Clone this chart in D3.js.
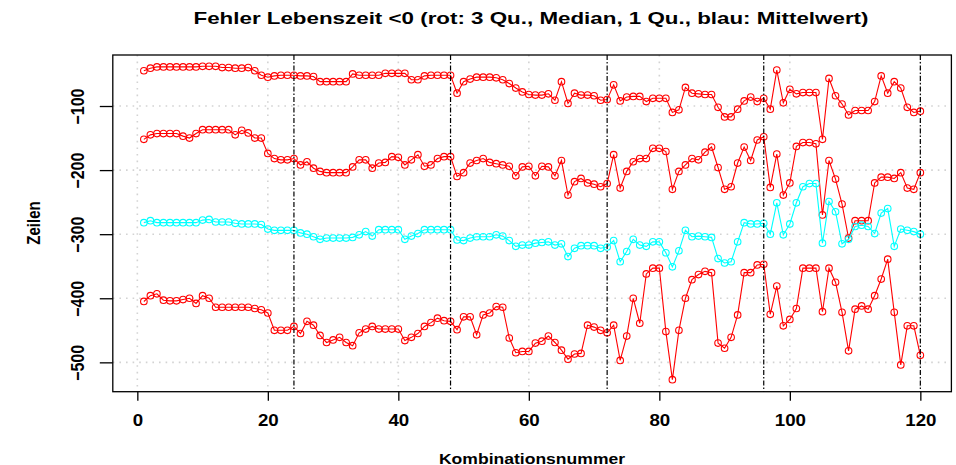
<!DOCTYPE html>
<html>
<head>
<meta charset="utf-8">
<script src="https://cdn.jsdelivr.net/npm/d3@7"></script>
<style>
  body { margin: 0; background: #fff; }
  text { font-family: "Liberation Sans", Arial, sans-serif; font-weight: bold; fill: #000; }
</style>
</head>
<body>
<div class="chart"></div>
<script>
// values, index 1..120
const q3 = [-45,-41,-39,-39,-39,-39,-39,-39,-39,-38,-38,-38,-40,-40,-41,-41,-40,-45,-52,-55,
  -53,-52,-52,-52,-53,-53,-54,-62,-62,-62,-62,-62,-50,-52,-52,-52,-52,-49,-49,-49,
  -49,-59,-59,-53,-52,-52,-52,-52,-80,-62,-58,-55,-55,-55,-56,-59,-65,-72,-78,-82,
  -83,-83,-81,-91,-62,-96,-80,-83,-83,-84,-91,-90,-67,-92,-86,-85,-85,-93,-88,-88,
  -88,-110,-106,-71,-80,-81,-82,-82,-102,-117,-117,-105,-92,-86,-93,-88,-105,-44,-95,-74,
  -81,-79,-79,-79,-152,-57,-84,-97,-114,-107,-107,-107,-93,-53,-80,-62,-72,-102,-110,-108];

const median = [-152,-145,-143,-143,-143,-143,-147,-150,-143,-137,-137,-137,-137,-137,-145,-138,-142,-150,-150,-174,
  -182,-184,-184,-182,-192,-187,-197,-202,-204,-204,-204,-204,-195,-184,-184,-197,-189,-188,-179,-180,
  -192,-184,-176,-194,-192,-182,-179,-179,-210,-204,-189,-185,-182,-188,-190,-192,-194,-209,-195,-194,
  -209,-194,-195,-209,-185,-239,-218,-213,-220,-222,-226,-221,-176,-228,-202,-187,-182,-182,-166,-166,
  -171,-230,-202,-192,-182,-184,-172,-164,-196,-230,-226,-189,-164,-185,-153,-148,-227,-175,-239,-220,
  -163,-157,-157,-159,-270,-185,-214,-253,-306,-279,-279,-279,-220,-211,-211,-213,-204,-228,-230,-204];

const mean = [-282,-279,-282,-282,-282,-282,-282,-282,-282,-278,-277,-281,-281,-281,-283,-284,-284,-284,-285,-292,
  -294,-294,-294,-294,-298,-300,-304,-308,-306,-306,-306,-306,-305,-301,-296,-303,-293,-293,-293,-293,
  -308,-303,-299,-293,-293,-293,-293,-293,-309,-310,-306,-304,-304,-304,-301,-303,-310,-319,-317,-317,
  -314,-313,-312,-317,-315,-335,-322,-318,-318,-318,-322,-320,-310,-343,-327,-308,-317,-319,-312,-312,
  -329,-351,-326,-294,-304,-303,-304,-305,-338,-345,-343,-312,-282,-284,-284,-283,-300,-251,-301,-284,
  -251,-226,-221,-221,-314,-249,-265,-315,-308,-288,-286,-288,-299,-267,-260,-319,-292,-294,-296,-300];

const q1 = [-405,-396,-393,-403,-404,-404,-402,-400,-408,-396,-400,-414,-414,-414,-414,-414,-414,-416,-418,-423,
  -450,-450,-450,-444,-455,-436,-442,-458,-469,-465,-461,-469,-474,-454,-448,-444,-448,-448,-448,-448,
  -466,-461,-455,-444,-438,-431,-435,-436,-449,-429,-429,-457,-426,-423,-413,-414,-462,-485,-483,-483,
  -470,-467,-459,-469,-481,-495,-487,-486,-442,-445,-450,-454,-442,-497,-459,-400,-439,-362,-353,-353,
  -452,-527,-450,-400,-371,-363,-358,-360,-470,-478,-461,-426,-360,-360,-348,-347,-425,-381,-443,-433,
  -416,-353,-353,-353,-421,-353,-375,-422,-482,-417,-412,-417,-396,-370,-339,-422,-504,-443,-443,-489];

const xTicks = [0, 20, 40, 60, 80, 100, 120];
const yTicks = [-100, -200, -300, -400, -500];
const blockLines = [24, 48, 72, 96, 120];

const series = [
  { name: "3 Qu.", values: q3, color: "#ff0000" },
  { name: "Median", values: median, color: "#ff0000" },
  { name: "1 Qu.", values: q1, color: "#ff0000" },
  { name: "Mittelwert", values: mean, color: "#00ffff" }
];

const width = 956, height = 465;
const box = { left: 112.8, right: 951.4, top: 55, bottom: 391.7 };
const sx = 1.17; // horizontal stretch of the text in the picture

const xScale = d3.scaleLinear().domain([-3.76, 124.76]).range([box.left, box.right]);
const yScale = d3.scaleLinear().domain([-545.8, -20.4]).range([box.bottom, box.top]);

const svg = d3.select(".chart")
  .append("svg")
  .attr("width", width)
  .attr("height", height);

// grid
svg.append("g")
  .selectAll("line")
  .data(xTicks)
  .enter()
  .append("line")
  .attr("x1", d => xScale(d)).attr("x2", d => xScale(d))
  .attr("y1", box.top).attr("y2", box.bottom)
  .attr("stroke", "#d3d3d3").attr("stroke-width", 1.6)
  .attr("stroke-dasharray", "1.6,5");

svg.append("g")
  .selectAll("line")
  .data(yTicks)
  .enter()
  .append("line")
  .attr("x1", box.left).attr("x2", box.right)
  .attr("y1", d => yScale(d)).attr("y2", d => yScale(d))
  .attr("stroke", "#d3d3d3").attr("stroke-width", 1.6)
  .attr("stroke-dasharray", "1.6,5");

// series
const line = d3.line()
  .x((d, i) => xScale(i + 1))
  .y(d => yScale(d));

series.forEach(s => {
  const g = svg.append("g");
  g.append("path")
    .attr("d", line(s.values))
    .attr("fill", "none")
    .attr("stroke", s.color)
    .attr("stroke-width", 1.1);
  g.selectAll("circle")
    .data(s.values)
    .enter()
    .append("circle")
    .attr("cx", (d, i) => xScale(i + 1))
    .attr("cy", d => yScale(d))
    .attr("r", 3.3)
    .attr("fill", "none")
    .attr("stroke", s.color)
    .attr("stroke-width", 1.1);
});

// block separators
svg.append("g")
  .selectAll("line")
  .data(blockLines)
  .enter()
  .append("line")
  .attr("x1", d => xScale(d)).attr("x2", d => xScale(d))
  .attr("y1", box.top).attr("y2", box.bottom)
  .attr("stroke", "#000").attr("stroke-width", 1.2)
  .attr("stroke-dasharray", "5,2,1.5,2");

// box
svg.append("rect")
  .attr("x", box.left).attr("y", box.top)
  .attr("width", box.right - box.left).attr("height", box.bottom - box.top)
  .attr("fill", "none").attr("stroke", "#000").attr("stroke-width", 1.3);

// axes
const xAxis = d3.axisBottom(xScale).tickValues(xTicks).tickSize(9).tickFormat(d3.format("d"));
const xg = svg.append("g")
  .attr("class", "x-axis")
  .attr("transform", `translate(0, ${box.bottom})`)
  .call(xAxis);
xg.select(".domain").remove();
xg.selectAll("line").attr("stroke-width", 1.3);
xg.selectAll("text")
  .attr("y", 0).attr("dy", null)
  .attr("transform", `translate(0, 34) scale(${sx},1)`)
  .style("font-size", "16px")
  .style("font-family", "'Liberation Sans', Arial, sans-serif")
  .style("font-weight", "bold");

const yAxis = d3.axisLeft(yScale).tickValues(yTicks).tickSize(13).tickFormat(d3.format("d"));
const yg = svg.append("g")
  .attr("class", "y-axis")
  .attr("transform", `translate(${box.left}, 0)`)
  .call(yAxis);
yg.select(".domain").remove();
yg.selectAll("line").attr("stroke-width", 1.3);
yg.selectAll("text")
  .attr("x", 0).attr("dy", null)
  .attr("text-anchor", "middle")
  .attr("transform", `translate(-29, 0) rotate(-90) scale(1,${sx})`)
  .style("font-size", "16px")
  .style("font-family", "'Liberation Sans', Arial, sans-serif")
  .style("font-weight", "bold");

// title and axis labels
svg.append("text")
  .attr("x", 531).attr("y", 24)
  .attr("text-anchor", "middle")
  .attr("textLength", 675)
  .attr("lengthAdjust", "spacingAndGlyphs")
  .style("font-size", "17px")
  .text("Fehler Lebenszeit <0 (rot: 3 Qu., Median, 1 Qu., blau: Mittelwert)");

svg.append("text")
  .attr("transform", `translate(532, 463.5) scale(${sx},1)`)
  .attr("text-anchor", "middle")
  .style("font-size", "15px")
  .text("Kombinationsnummer");

svg.append("text")
  .attr("transform", `translate(39.5, 223) rotate(-90) scale(1,${sx})`)
  .attr("text-anchor", "middle")
  .style("font-size", "15px")
  .text("Zeilen");
</script>
</body>
</html>
